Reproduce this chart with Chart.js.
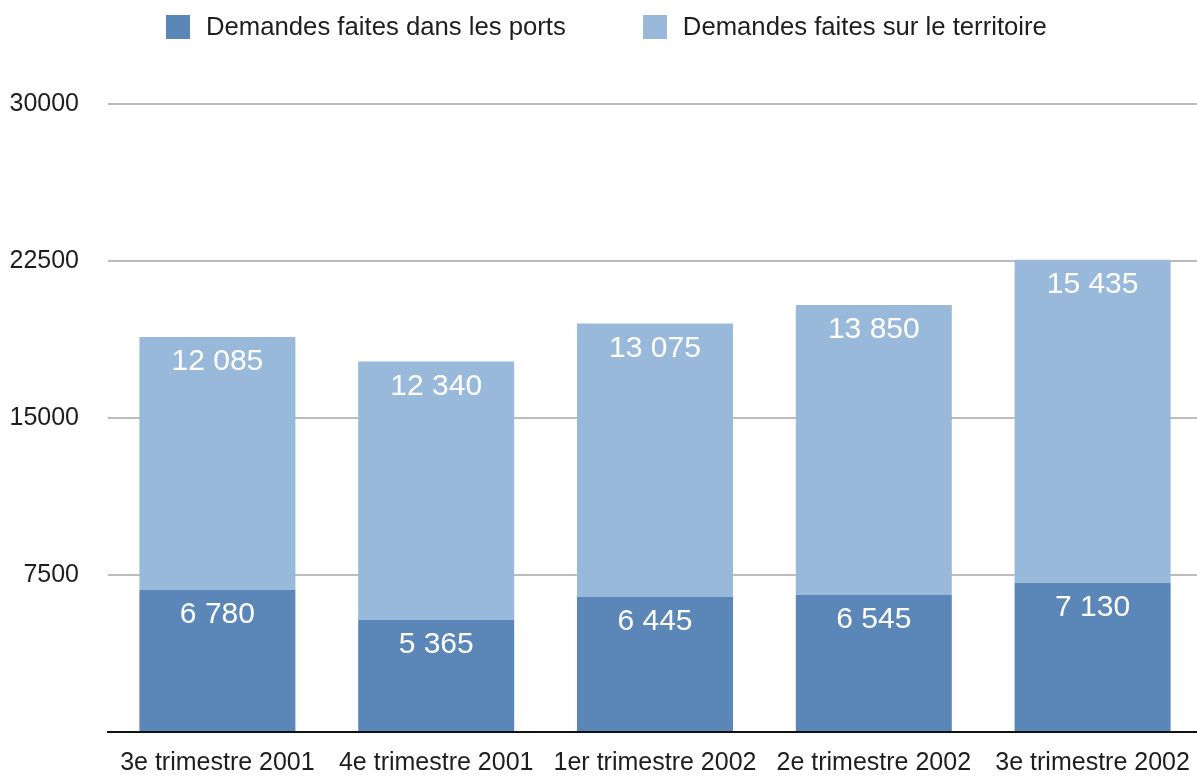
<!DOCTYPE html>
<html>
<head>
<meta charset="utf-8">
<script src="https://cdn.jsdelivr.net/npm/chart.js@4.4.1/dist/chart.umd.min.js"></script>
<style>
  html, body { margin: 0; padding: 0; background: #fff; overflow: hidden; width: 1197px; height: 776px; }
  #wrap { position: relative; width: 1197px; height: 776px; overflow: hidden; }
  #c { position: absolute; left: 0; top: 0; }
  #legend { position: absolute; top: 12px; left: 166px; display: flex; align-items: center;
            font-family: 'Liberation Sans', Arial, Helvetica, sans-serif; font-size: 25.7px; color: #1e1e1e; }
  .item { display: flex; align-items: center; margin-right: 77px; white-space: nowrap; }
  .sw { width: 24px; height: 24px; margin-right: 16px; }
</style>
</head>
<body>
<div id="wrap">
  <canvas id="c" width="1202" height="776"></canvas>
  <div id="legend"></div>
</div>
<script>
const categories = ['3e trimestre 2001', '4e trimestre 2001', '1er trimestre 2002', '2e trimestre 2002', '3e trimestre 2002'];
const seriesNames = ['Demandes faites dans les ports', 'Demandes faites sur le territoire'];
const portsValues = [6780, 5365, 6445, 6545, 7130];
const territoireValues = [12085, 12340, 13075, 13850, 15435];
const yTicks = [0, 7500, 15000, 22500, 30000];
const seriesColors = ['#5b87b8', '#98b9da'];

function fmt(v) { return String(v).replace(/\B(?=(\d{3})+(?!\d))/g, ' '); }

const FONT = "'Liberation Sans', Arial, Helvetica, sans-serif";

const valueLabels = {
  id: 'valueLabels',
  afterDatasetsDraw(chart) {
    const ctx = chart.ctx;
    ctx.save();
    ctx.fillStyle = '#ffffff';
    ctx.font = '30px ' + FONT;
    ctx.textAlign = 'center';
    ctx.textBaseline = 'middle';
    chart.data.datasets.forEach((ds, di) => {
      const meta = chart.getDatasetMeta(di);
      meta.data.forEach((el, i) => {
        ctx.fillText(fmt(ds.data[i]), el.x, el.y + 25);
      });
    });
    ctx.restore();
  }
};

const chart = new Chart(document.getElementById('c'), {
  type: 'bar',
  data: {
    labels: categories,
    datasets: [
      { label: seriesNames[0], data: portsValues, backgroundColor: seriesColors[0], borderWidth: 0 },
      { label: seriesNames[1], data: territoireValues, backgroundColor: seriesColors[1], borderWidth: 0 }
    ]
  },
  options: {
    responsive: false,
    animation: false,
    devicePixelRatio: 1,
    layout: { padding: { top: 104, left: 0, right: 0, bottom: 0 } },
    categoryPercentage: 1,
    barPercentage: 0.713,
    plugins: { legend: { display: false }, tooltip: { enabled: false } },
    scales: {
      x: {
        stacked: true,
        grid: { display: false },
        border: { display: true, color: '#111111', width: 2 },
        ticks: { color: '#1e1e1e', font: { family: FONT, size: 25 }, padding: 8, maxRotation: 0, autoSkip: false },
        afterFit(scale) { scale.height = 43; }
      },
      y: {
        stacked: true,
        min: 0, max: 30000,
        afterBuildTicks(scale) { scale.ticks = yTicks.map(v => ({ value: v })); },
        grid: {
          color: (c) => (c.tick && c.tick.value === 0) ? 'rgba(0,0,0,0)' : '#bcbcbc',
          lineWidth: 2,
          drawTicks: false
        },
        border: { display: false },
        ticks: { color: '#1e1e1e', font: { family: FONT, size: 25 }, padding: 29,
                 callback: (v) => v === 0 ? '' : String(v) },
        afterFit(scale) { scale.width = 108; }
      }
    }
  },
  plugins: [valueLabels]
});

const legend = document.getElementById('legend');
chart.data.datasets.forEach((ds) => {
  const item = document.createElement('div');
  item.className = 'item';
  const sw = document.createElement('span');
  sw.className = 'sw';
  sw.style.background = ds.backgroundColor;
  const tx = document.createElement('span');
  tx.textContent = ds.label;
  item.appendChild(sw);
  item.appendChild(tx);
  legend.appendChild(item);
});
</script>
</body>
</html>
